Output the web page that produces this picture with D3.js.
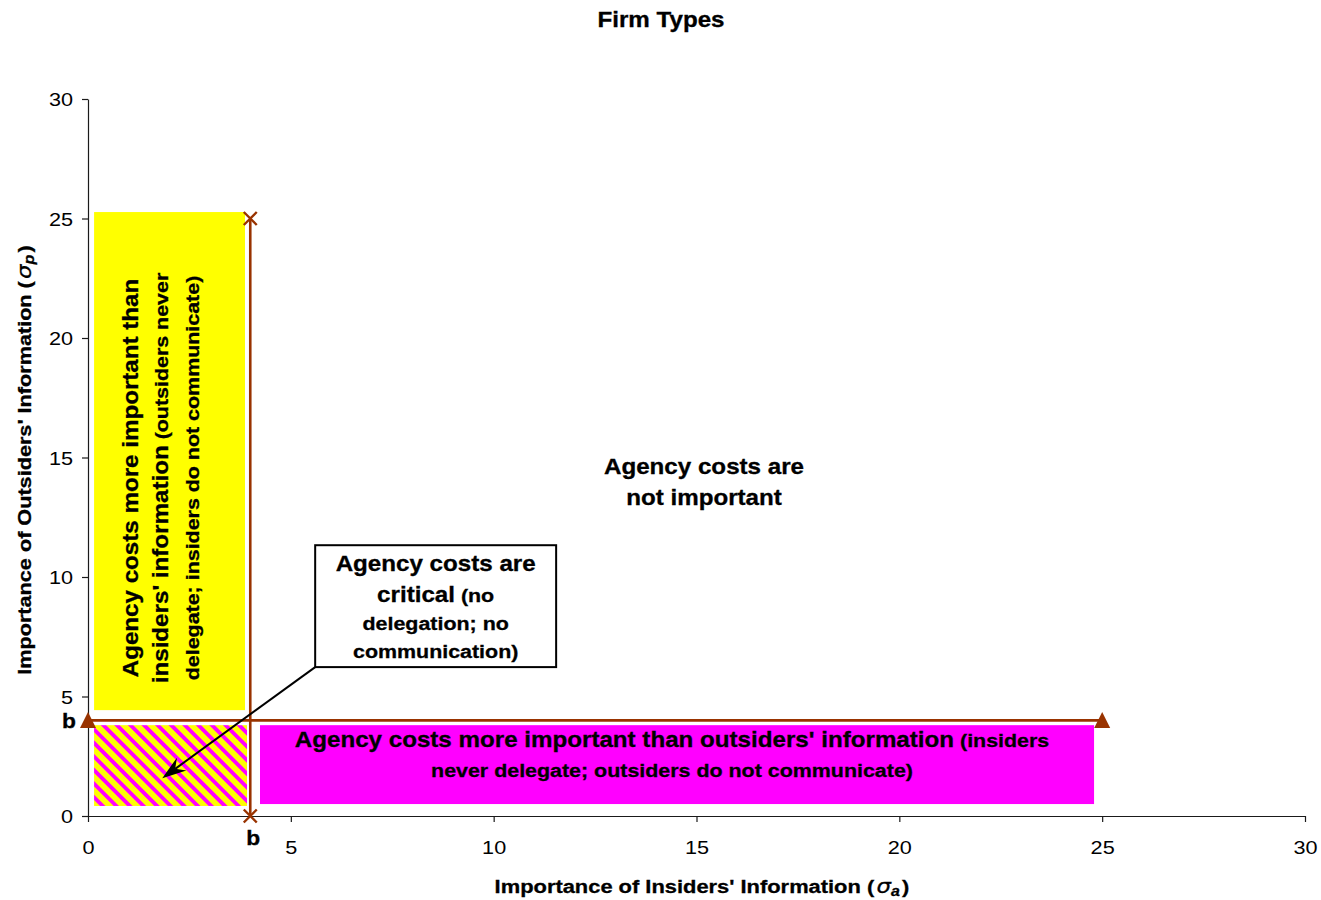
<!DOCTYPE html>
<html>
<head>
<meta charset="utf-8">
<script src="https://cdn.jsdelivr.net/npm/d3@7"></script>
<style>
  body { margin: 0; background: #fff; }
  svg { display: block; }
  text { font-family: "Liberation Sans", Arial, Helvetica, sans-serif; fill: #000; }
  text.heavy { stroke: #000; stroke-width: 0.3px; }
</style>
</head>
<body>
<svg id="chart" width="1321" height="900"></svg>
<script>
// ---- data -------------------------------------------------------------
const xTicks = [0, 5, 10, 15, 20, 25, 30];
const yTicks = [0, 5, 10, 15, 20, 25, 30];
const bValue = 4;                 // agency-cost threshold b on both axes
const bLineSpan = [0, 25];        // extent of the two threshold lines

// firm-type regions, in axis units
const regionNames = ["insidersOnly", "critical", "outsidersOnly"];
const regionX0 = [0.15, 0.15, 4.24];
const regionX1 = [3.87, 3.92, 24.8];
const regionY0 = [4.43, 0.42, 0.5];
const regionY1 = [25.27, 3.8, 3.8];

// callout box and the point its arrow designates, in axis units
const calloutX = [5.6, 11.54];
const calloutY = [6.23, 11.33];
const arrowTip = [1.83, 1.58];

// ---- layout -----------------------------------------------------------
const svg = d3.select("#chart");
const x = d3.scaleLinear().domain([0, 30]).range([88, 1305]);
const y = d3.scaleLinear().domain([0, 30]).range([816, 99]);
const SX = 1.14;                  // widening of lettering along the writing direction
const BROWN = "#993300";
const BIG = 21.2, SMALL = 18.8;

// text helper: runs = [[string, size, extra attributes]]
function label(px, py, runs, opt = {}) {
  const t = svg.append("text")
    .attr("class", (opt.weight || "bold") === "bold" ? "heavy" : null)
    .attr("transform", `translate(${px},${py})` + (opt.rotate ? " rotate(-90)" : "") + ` scale(${SX},1)`)
    .attr("text-anchor", opt.anchor || "middle")
    .attr("font-weight", opt.weight || "bold");
  runs.forEach(r => {
    const s = t.append("tspan").attr("font-size", r[1]).text(r[0]);
    if (r[2]) Object.entries(r[2]).forEach(([k, v]) => s.attr(k, v));
  });
  return t;
}

// ---- hatch pattern ----------------------------------------------------
const defs = svg.append("defs");
const P = 9.6;
const pat = defs.append("pattern")
  .attr("id", "hatch")
  .attr("patternUnits", "userSpaceOnUse")
  .attr("width", P).attr("height", P)
  .attr("patternTransform", "rotate(-45)");
pat.append("rect").attr("width", P).attr("height", P).attr("fill", "#ffff00");
pat.append("rect").attr("width", P * 0.4).attr("height", P).attr("fill", "#ff00ff");

// ---- regions ----------------------------------------------------------
const regionFill = { insidersOnly: "#ffff00", critical: "url(#hatch)", outsidersOnly: "#ff00ff" };
svg.append("g").selectAll("rect")
  .data(regionNames)
  .join("rect")
  .attr("x", (d, i) => x(regionX0[i]))
  .attr("y", (d, i) => y(regionY1[i]))
  .attr("width", (d, i) => x(regionX1[i]) - x(regionX0[i]))
  .attr("height", (d, i) => y(regionY0[i]) - y(regionY1[i]))
  .attr("fill", d => regionFill[d]);

// ---- axes -------------------------------------------------------------
const axisColor = "#1a1a1a";
const gy = svg.append("g").attr("transform", `translate(${x(0)},0)`)
  .call(d3.axisLeft(y).tickValues(yTicks).tickSize(6).tickSizeOuter(0).tickFormat(d3.format("d")));
const gx = svg.append("g").attr("transform", `translate(0,${y(0)})`)
  .call(d3.axisBottom(x).tickValues(xTicks).tickSize(6).tickSizeOuter(0).tickFormat(d3.format("d")));
[gy, gx].forEach(g => {
  g.select(".domain").attr("stroke", axisColor).attr("stroke-width", 1.2);
  g.selectAll(".tick line").attr("stroke", axisColor).attr("stroke-width", 1.2);
  g.selectAll(".tick text")
    .attr("font-family", '"Liberation Sans", Arial, sans-serif')
    .attr("font-size", 19).attr("fill", "#000");
});
gy.selectAll(".tick text").attr("x", null).attr("dy", "0.36em")
  .attr("transform", `translate(-15,0) scale(${SX},1)`);
gx.selectAll(".tick text").attr("y", null).attr("dy", null)
  .attr("transform", `translate(0,38) scale(${SX},1)`);

// ---- threshold lines --------------------------------------------------
svg.append("line")
  .attr("x1", x(bLineSpan[0])).attr("x2", x(bLineSpan[1]))
  .attr("y1", y(bValue)).attr("y2", y(bValue))
  .attr("stroke", BROWN).attr("stroke-width", 2.6);
svg.append("line")
  .attr("x1", x(bValue)).attr("x2", x(bValue))
  .attr("y1", y(bLineSpan[0])).attr("y2", y(bLineSpan[1]))
  .attr("stroke", BROWN).attr("stroke-width", 2.6);

// triangle markers at the ends of the horizontal line
svg.append("g").selectAll("path")
  .data(bLineSpan)
  .join("path")
  .attr("transform", d => `translate(${x(d)},${y(bValue)})`)
  .attr("d", "M0,-8.5 L8,7.5 L-8,7.5 Z")
  .attr("fill", BROWN);

// cross markers at the ends of the vertical line
svg.append("g").selectAll("path")
  .data(bLineSpan)
  .join("path")
  .attr("transform", d => `translate(${x(bValue)},${y(d)})`)
  .attr("d", "M-6.5,-6.5 L6.5,6.5 M-6.5,6.5 L6.5,-6.5")
  .attr("stroke", BROWN).attr("stroke-width", 2.4).attr("fill", "none");

// "b" marks on both axes
label(x(0) - 19, y(bValue) + 8, [["b", 20]]);
label(x(bValue) + 3, y(0) + 29, [["b", 20]]);

// ---- title and axis titles -------------------------------------------
label(661, 26.5, [["Firm Types", BIG]]);
label(702, 893, [
  ["Importance of Insiders' Information (", 19.2],
  ["σ", 20, { "font-style": "italic", "font-weight": "normal", "font-family": '"DejaVu Sans", sans-serif', "dx": 2 }],
  ["a", 14, { "font-style": "italic", "dy": 3 }],
  [")", 19.2, { "dy": -3, "dx": 2 }]
]);
label(31, 460, [
  ["Importance of Outsiders' Information (", 19],
  ["σ", 20, { "font-style": "italic", "font-weight": "normal", "font-family": '"DejaVu Sans", sans-serif', "dx": 2 }],
  ["p", 14, { "font-style": "italic", "dy": 3 }],
  [")", 19, { "dy": -3, "dx": 2 }]
], { rotate: true });

// ---- region texts -----------------------------------------------------
// tall yellow region (rotated)
const ycy = 478;
label(138, ycy, [["Agency costs more important than", BIG]], { rotate: true });
label(168, ycy, [["insiders' information", BIG], [" (outsiders never", SMALL]], { rotate: true });
label(199, ycy, [["delegate; insiders do not communicate)", SMALL]], { rotate: true });

// wide magenta region
label(672, 747, [["Agency costs more important than outsiders' information", BIG], [" (insiders", SMALL]]);
label(672, 777, [["never delegate; outsiders do not communicate)", SMALL]]);

// open region
label(704, 474, [["Agency costs are", BIG]]);
label(704, 505, [["not important", BIG]]);

// ---- callout with arrow ----------------------------------------------
const bx0 = x(calloutX[0]), bx1 = x(calloutX[1]);
const by0 = y(calloutY[1]), by1 = y(calloutY[0]);
const tx = x(arrowTip[0]), ty = y(arrowTip[1]);
const ang = Math.atan2(ty - by1, tx - bx0);
const ux = Math.cos(ang), uy = Math.sin(ang);
const HL = 24, HW = 8, NOTCH = 16;
const nx = tx - ux * NOTCH, ny = ty - uy * NOTCH;
svg.append("line")
  .attr("x1", bx0).attr("y1", by1).attr("x2", nx).attr("y2", ny)
  .attr("stroke", "#000").attr("stroke-width", 2);
const hb = [tx - ux * HL, ty - uy * HL];
svg.append("path")
  .attr("d", `M${tx},${ty} L${hb[0] - uy * HW},${hb[1] + ux * HW} L${nx},${ny} L${hb[0] + uy * HW},${hb[1] - ux * HW} Z`)
  .attr("fill", "#000");

svg.append("rect")
  .attr("x", bx0).attr("y", by0)
  .attr("width", bx1 - bx0).attr("height", by1 - by0)
  .attr("fill", "#fff").attr("stroke", "#000").attr("stroke-width", 2);
const ccx = (bx0 + bx1) / 2;
label(ccx, 571, [["Agency costs are", BIG]]);
label(ccx, 602, [["critical", BIG], [" (no", SMALL]]);
label(ccx, 630, [["delegation; no", SMALL]]);
label(ccx, 658, [["communication)", SMALL]]);
</script>
</body>
</html>
